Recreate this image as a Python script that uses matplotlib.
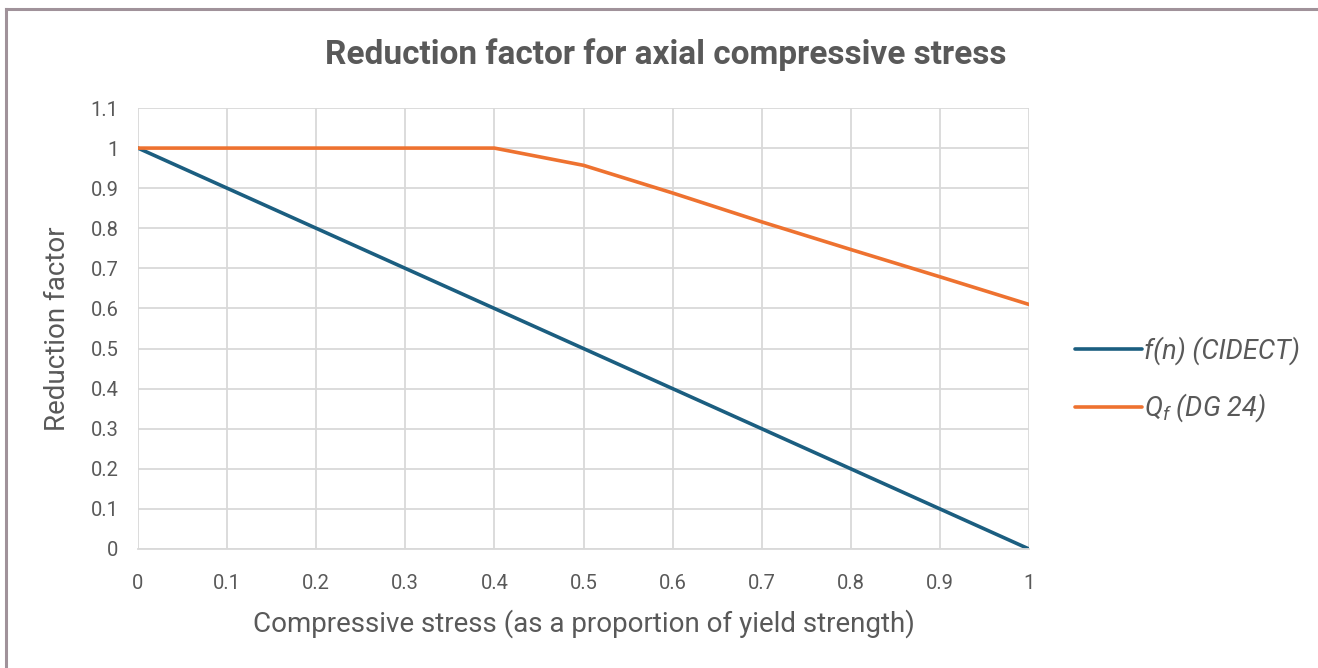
import numpy as np
import matplotlib
matplotlib.use("Agg")
import matplotlib.pyplot as plt
from matplotlib.lines import Line2D

plt.rcParams['font.family'] = ['Roboto', 'DejaVu Sans']
plt.rcParams['mathtext.fontset'] = 'custom'
plt.rcParams['mathtext.it'] = 'Roboto:italic'
plt.rcParams['mathtext.rm'] = 'Roboto'

# data
stress = [0, 0.1, 0.2, 0.3, 0.4, 0.5, 0.6, 0.7, 0.8, 0.9, 1.0]
f_cidect = [1.0, 0.9, 0.8, 0.7, 0.6, 0.5, 0.4, 0.3, 0.2, 0.1, 0.0]
q_dg24 = [1.0, 1.0, 1.0, 1.0, 1.0, 0.957, 0.888, 0.816, 0.747, 0.679, 0.61]

xticks = [0, 0.1, 0.2, 0.3, 0.4, 0.5, 0.6, 0.7, 0.8, 0.9, 1]
xtick_labels = ['0', '0.1', '0.2', '0.3', '0.4', '0.5', '0.6', '0.7', '0.8', '0.9', '1']
yticks = [0, 0.1, 0.2, 0.3, 0.4, 0.5, 0.6, 0.7, 0.8, 0.9, 1, 1.1]
ytick_labels = ['0', '0.1', '0.2', '0.3', '0.4', '0.5', '0.6', '0.7', '0.8', '0.9', '1', '1.1']

blue = '#1b5e80'
orange = '#ee7230'
grey = '#595959'
grid_c = '#d9d9d9'

W, H = 1318, 668
fig = plt.figure(figsize=(W / 100, H / 100), dpi=100)
ax = fig.add_axes([138 / W, 1 - 549 / H, (1029 - 138) / W, (549 - 108) / H])

ax.plot(stress, f_cidect, color=blue, lw=2.6, label='f(n) (CIDECT)', solid_capstyle='round')
ax.plot(stress, q_dg24, color=orange, lw=2.6, label='$Q_f$ (DG 24)', solid_capstyle='round')

ax.set_xlim(0, 1)
ax.set_ylim(0, 1.1)
ax.set_xticks(xticks)
ax.set_xticklabels(xtick_labels)
ax.set_yticks(yticks)
ax.set_yticklabels(ytick_labels)
ax.tick_params(axis='both', length=0, labelsize=14.5, labelcolor=grey)
ax.tick_params(axis='x', pad=18)
ax.tick_params(axis='y', pad=14)
ax.grid(True, color=grid_c, lw=1.3)
ax.set_axisbelow(True)
for s in ax.spines.values():
    s.set_visible(False)
ax.spines['bottom'].set_visible(True)
ax.spines['bottom'].set_color(grid_c)
ax.spines['bottom'].set_linewidth(1.3)

ax.set_xlabel('Compressive stress (as a proportion of yield strength)', fontsize=20, color=grey, labelpad=12)
ax.set_ylabel('Reduction factor', fontsize=20, color=grey, labelpad=14)

fig.text(666 / W, 1 - 55 / H, 'Reduction factor for axial compressive stress',
         ha='center', va='center', fontsize=24, fontweight='bold', color=grey)

leg = ax.legend(loc='center left', bbox_to_anchor=(1.024, 0.383), frameon=False,
                handlelength=2.5, handletextpad=0.05, labelspacing=1.0,
                prop={'style': 'italic', 'size': 19.5})
for t in leg.get_texts():
    t.set_color(grey)

# outer chart border
bc = '#a0929a'
fig.add_artist(Line2D([6 / W, 1], [1 - 9 / H, 1 - 9 / H], color=bc, lw=2.2, transform=fig.transFigure))
fig.add_artist(Line2D([6 / W, 6 / W], [0, 1 - 9 / H], color=bc, lw=2.2, transform=fig.transFigure))

fig.savefig('out.png', dpi=100)
